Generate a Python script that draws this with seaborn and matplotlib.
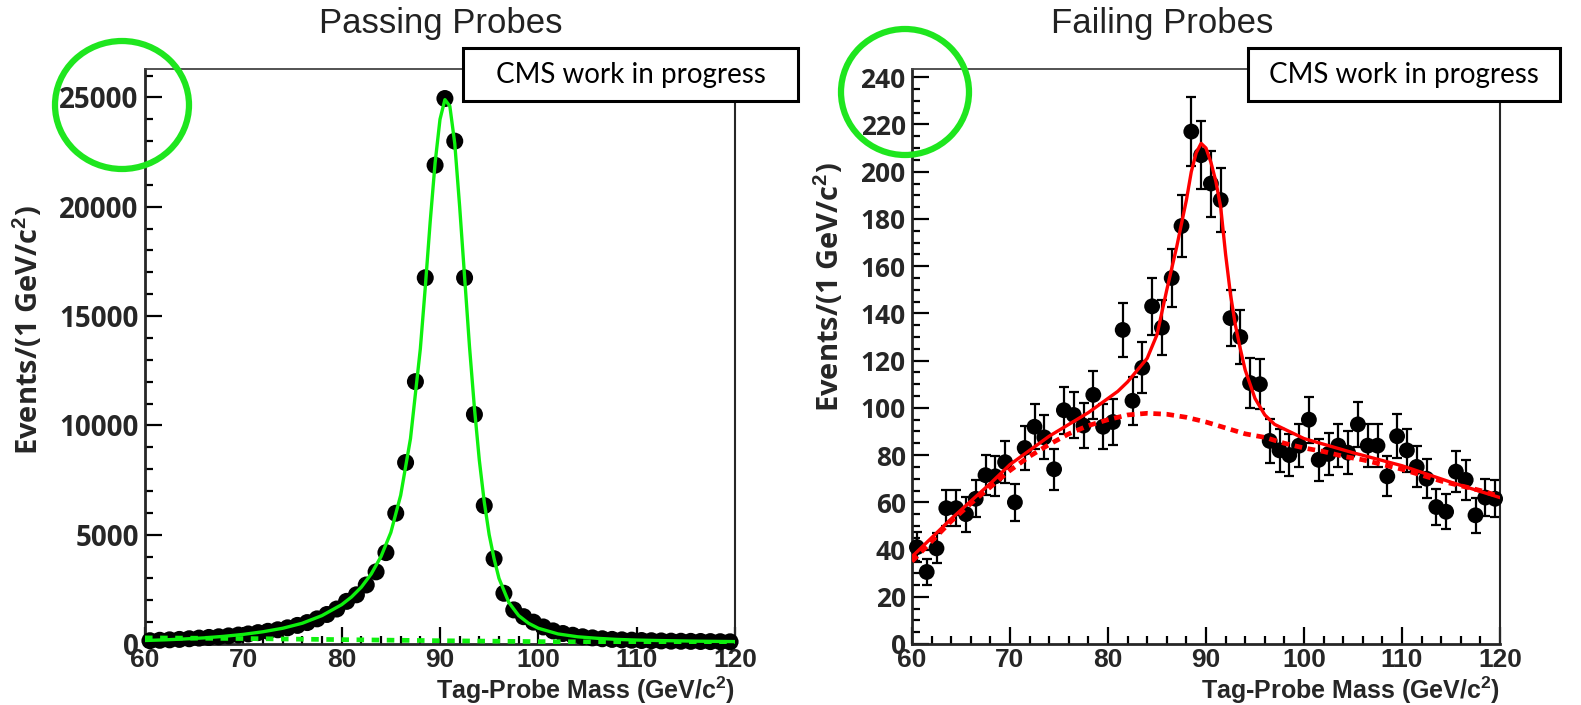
import numpy as np
import pandas as pd
import matplotlib
matplotlib.use("Agg")
import matplotlib.pyplot as plt
from matplotlib.patches import Ellipse, Rectangle
from matplotlib.ticker import MultipleLocator
import seaborn as sns

# ---------------- data ----------------
bin_centers = [60.5 + i for i in range(60)]

pass_counts = [150, 170, 190, 210, 240, 270, 300, 330, 370, 410,
               460, 520, 580, 650, 740, 850, 980, 1150, 1350, 1600,
               1950, 2250, 2700, 3300, 4180, 5980, 8300, 12000, 16750, 21900,
               24950, 23000, 16750, 10500, 6330, 3900, 2320, 1560, 1250, 1000,
               780, 600, 480, 400, 330, 280, 240, 210, 190, 175,
               160, 150, 140, 130, 125, 120, 115, 110, 105, 100]

fail_counts = [41, 30.5, 40.5, 57.5, 57.5, 55, 61.5, 71.5, 71, 77,
               60, 83, 92, 87.5, 74, 99, 97, 92.5, 105.5, 92,
               94, 133, 103, 117, 143, 134, 155, 177, 217, 207,
               195, 188, 138, 130, 110.5, 110, 86, 82, 80, 84,
               95, 78, 80.5, 84, 81, 93, 84, 84, 71, 88,
               82, 75, 70, 58, 56, 73, 69.5, 54.5, 62, 61.5]

pass_fit_x = [60, 62, 64, 66, 68, 70, 72, 74, 76, 78, 80, 81, 82, 83, 84, 85, 86, 87,
              88, 88.5, 89, 89.5, 90, 90.5, 91, 91.5, 92, 92.5, 93, 93.5, 94, 94.5,
              95, 95.5, 96, 97, 98, 99, 100, 102, 104, 106, 108, 110, 112, 114, 116, 118, 120]
pass_fit_y = [160, 190, 230, 280, 350, 440, 560, 720, 950, 1300, 1800, 2150, 2600, 3200,
              4000, 5100, 6800, 9400, 13500, 16300, 19300, 22000, 24000, 24900, 24600,
              22900, 20000, 16800, 13600, 10800, 8400, 6500, 5000, 3900, 3000, 1900, 1300,
              950, 720, 460, 330, 260, 210, 180, 160, 145, 130, 120, 110]
pass_bkg_x = [60, 70, 80, 90, 100, 110, 120]
pass_bkg_y = [280, 250, 200, 150, 110, 80, 60]

fail_fit_x = [60, 62, 64, 66, 68, 70, 72, 74, 76, 78, 80, 81, 82, 83, 84, 85, 86, 87,
              88, 88.5, 89, 89.5, 90, 90.5, 91, 91.5, 92, 92.5, 93, 93.5, 94, 94.5, 95,
              96, 97, 98, 99, 100, 105, 110, 115, 120]
fail_fit_y = [37, 45, 53, 60.5, 68, 76, 82, 88, 93, 98, 104, 107, 111, 116, 121, 131,
              150, 168, 188, 200, 208, 212, 210, 204, 196, 185, 165, 148, 135, 125, 116,
              110, 104, 97, 93, 91, 89, 87, 81, 75.5, 68.5, 62]
fail_bkg_x = [60, 62, 64, 66, 68, 70, 72, 74, 76, 78, 80, 82, 84, 86, 88, 90, 92, 94,
              96, 98, 100, 102, 104, 106, 108, 110, 112, 114, 116, 118, 120]
fail_bkg_y = [35, 43.5, 52, 59.5, 66.5, 73.5, 79.5, 84.5, 89, 92.5, 95, 97, 97.7, 97.3,
              96, 94, 91.5, 89, 87.5, 85, 83, 81.5, 79.5, 78, 76, 74, 71.5, 69, 67, 65, 62.5]

titles = ["Passing Probes", "Failing Probes"]
xlabel = "Tag-Probe Mass (GeV/c$^{2}$)"
ylabel = "Events/(1 GeV/c$^{2}$)"
stamp = "CMS work in progress"

# ---------------- style ----------------
sns.set_style("ticks")
plt.rcParams['font.family'] = ['Liberation Sans', 'DejaVu Sans']
plt.rcParams['mathtext.fontset'] = 'custom'
plt.rcParams['mathtext.rm'] = 'Liberation Sans:bold'
plt.rcParams['mathtext.it'] = 'Liberation Sans:bold'

W, H = 1581, 705
fig = plt.figure(figsize=(W / 100, H / 100), dpi=100)
fig.patch.set_facecolor('white')

GREEN = '#0ef00e'
RED = '#ff0000'

ax1 = fig.add_axes([145 / W, (H - 644) / H, 590 / W, 575 / H])
ax2 = fig.add_axes([912 / W, (H - 644) / H, 588 / W, 575 / H])

def style_axes(ax, ymax, ymaj, ymin, ytick_size, ylab_size):
    ax.set_xlim(60, 120)
    ax.set_ylim(0, ymax)
    ax.xaxis.set_major_locator(MultipleLocator(10))
    ax.xaxis.set_minor_locator(MultipleLocator(2))
    ax.yaxis.set_major_locator(MultipleLocator(ymaj))
    ax.yaxis.set_minor_locator(MultipleLocator(ymin))
    ax.tick_params(which='both', direction='in', top=False, right=False,
                   color='black', width=1.6)
    ax.tick_params(which='major', length=12.5)
    ax.tick_params(which='minor', length=6)
    ax.tick_params(axis='x', which='major', pad=3)
    ax.tick_params(axis='y', which='major', pad=4.5)
    for lab in ax.get_xticklabels():
        lab.set_fontfamily('Liberation Sans')
        lab.set_fontweight('bold')
        lab.set_fontsize(19)
    for lab in ax.get_yticklabels():
        lab.set_fontfamily('Open Sans')
        lab.set_fontweight('bold')
        lab.set_fontsize(ytick_size)
    ax.spines['left'].set_linewidth(2.0)
    ax.spines['bottom'].set_linewidth(2.0)
    ax.spines['top'].set_linewidth(1.3)
    ax.spines['top'].set_color('#444444')
    ax.spines['right'].set_linewidth(1.5)
    for s in ax.spines.values():
        s.set_visible(True)
    ax.set_xlabel(xlabel, fontsize=18, fontweight='bold', fontfamily='Liberation Sans',
                  ha='right', va='center')
    ax.xaxis.set_label_coords(1.0, -0.081)
    ax.set_ylabel(ylabel, fontsize=ylab_size, fontweight='bold', fontfamily='Open Sans',
                  va='center')
    ax.grid(False)
    ax.set_facecolor('white')

# ---------------- passing panel ----------------
df_pass = pd.DataFrame({'mass': bin_centers, 'events': pass_counts})
ax1.errorbar(df_pass['mass'], df_pass['events'], yerr=np.sqrt(df_pass['events']),
             fmt='none', ecolor='black', elinewidth=1.5, capsize=0, zorder=2)
sns.scatterplot(data=df_pass, x='mass', y='events', ax=ax1, color='black', s=150,
                edgecolor='none', zorder=3, clip_on=False, legend=False)
sns.lineplot(x=pass_bkg_x, y=pass_bkg_y, ax=ax1, color=GREEN, lw=3.4,
             linestyle=(0, (1.6, 1.6)), zorder=4)
sns.lineplot(x=pass_fit_x, y=pass_fit_y, ax=ax1, color=GREEN, lw=2.4, zorder=5)
style_axes(ax1, 26300, 5000, 1000, 20, 21)
ax1.yaxis.set_label_coords(-0.198, 0.545)

# ---------------- failing panel ----------------
df_fail = pd.DataFrame({'mass': bin_centers, 'events': fail_counts})
ax2.errorbar(df_fail['mass'], df_fail['events'], yerr=np.sqrt(df_fail['events']),
             fmt='none', ecolor='black', elinewidth=1.6, capsize=3.5, capthick=1.6,
             zorder=2, clip_on=False)
sns.scatterplot(data=df_fail, x='mass', y='events', ax=ax2, color='black', s=130,
                edgecolor='none', zorder=3, clip_on=False, legend=False)
sns.lineplot(x=fail_bkg_x, y=fail_bkg_y, ax=ax2, color=RED, lw=3.4,
             linestyle=(0, (1.6, 1.2)), zorder=4)
sns.lineplot(x=fail_fit_x, y=fail_fit_y, ax=ax2, color=RED, lw=2.4, zorder=5)
style_axes(ax2, 243.5, 20, 5, 19, 21)
ax2.yaxis.set_label_coords(-0.141, 0.62)

# ---------------- titles ----------------
fig.text(441 / W, 1 - 23 / H, titles[0], ha='center', va='center', fontsize=25,
         fontfamily='Liberation Sans', color='#222222')
fig.text(1162 / W, 1 - 23 / H, titles[1], ha='center', va='center', fontsize=25,
         fontfamily='Liberation Sans', color='#222222')

# ---------------- overlay annotations ----------------
ov = fig.add_axes([0, 0, 1, 1], zorder=10)
ov.set_xlim(0, W)
ov.set_ylim(H, 0)
ov.axis('off')
ov.patch.set_alpha(0)

for (x0, x1) in [(463, 798), (1248, 1560)]:
    ov.add_patch(Rectangle((x0, 48), x1 - x0, 53, facecolor='white', edgecolor='black',
                           lw=2.2))
    ov.text((x0 + x1) / 2, 75, stamp, ha='center', va='center', fontsize=20,
            fontfamily='Lato', color='black')

ov.add_patch(Ellipse((122, 105), 134, 128, fill=False, edgecolor='#1ee61e', lw=4.5))
ov.add_patch(Ellipse((905, 92), 128, 126, fill=False, edgecolor='#1ee61e', lw=4.5))

fig.savefig('out.png', dpi=100, facecolor='white')
